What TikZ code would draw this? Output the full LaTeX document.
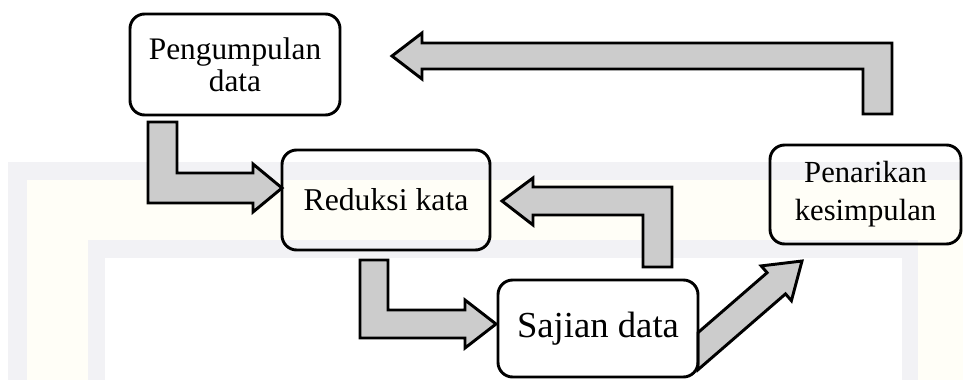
\documentclass[tikz,border=0pt]{standalone}
\usepackage{fontspec}
\setmainfont{Liberation Serif}
\definecolor{arrowgray}{RGB}{204,204,204}
\definecolor{wmgray}{RGB}{242,242,245}
\definecolor{wmcream}{RGB}{255,254,247}
\begin{document}
\begin{tikzpicture}[x=0.75pt,y=-0.75pt,
  box/.style={draw=black, line width=2.2pt, rounded corners=11pt, align=center, inner sep=0pt, text=black},
  blockarrow/.style={draw=black, line width=2.2pt, fill=arrowgray, line join=miter}]
\useasboundingbox (0,0) rectangle (963,379);
% faint watermark frame
\fill[wmgray] (8,162) rectangle (975,390);
\fill[wmcream] (27,180) rectangle (975,390);
\fill[wmgray] (88,240) rectangle (918,390);
\fill[white] (105,258) rectangle (902,390);
% block arrows
\draw[blockarrow] (892,114) -- (863,114) -- (863,69) -- (422,69) -- (422,79) -- (392,56) -- (422,33) -- (422,43) -- (892,43) -- cycle;
\draw[blockarrow] (148,122) -- (177,122) -- (177,173) -- (253,173) -- (253,164) -- (282,188) -- (253,212) -- (253,203) -- (148,203) -- cycle;
\draw[blockarrow] (360,260) -- (388,260) -- (388,310) -- (465,310) -- (465,300) -- (496,324) -- (465,348) -- (465,338) -- (360,338) -- cycle;
\draw[blockarrow] (672,267) -- (643,267) -- (643,215) -- (533,215) -- (533,225) -- (502,201) -- (533,178) -- (533,187) -- (672,187) -- cycle;
\draw[blockarrow] (698,332.6) -- (767.1,272.7) -- (761.2,265.9) -- (802,261) -- (791.4,300.7) -- (785.5,293.9) -- (698,369.7) -- cycle;
% boxes
\node[box, minimum width=157.5pt, minimum height=75.75pt, font=\fontsize{23.5}{24}\selectfont] (n1) at (235,64.5) {Pengumpulan\\data};
\node[box, minimum width=156pt, minimum height=75pt, font=\fontsize{23.8}{26}\selectfont] (n2) at (386,200) {Reduksi kata};
\node[box, minimum width=150pt, minimum height=72.75pt, font=\fontsize{27.5}{30}\selectfont] (n3) at (598,328.5) {Sajian data};
\node[box, minimum width=143.25pt, minimum height=74.25pt, font=\fontsize{23}{28.5}\selectfont] (n4) at (865.5,194.5) {Penarikan\\kesimpulan};
\end{tikzpicture}
\end{document}
